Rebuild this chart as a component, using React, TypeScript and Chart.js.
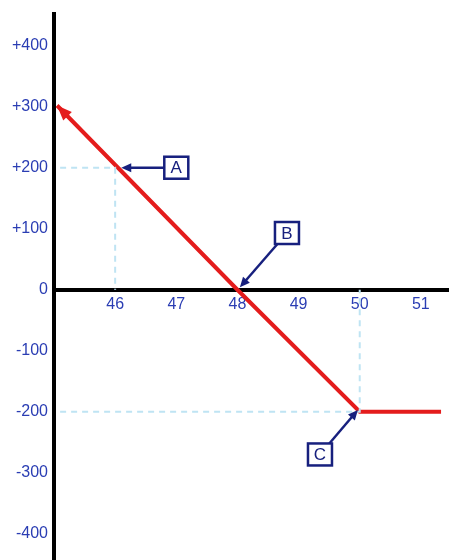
import React, { useEffect, useRef } from 'react';
import { Chart, registerables } from 'chart.js';

Chart.register(...registerables);

const xTicks = [46, 47, 48, 49, 50, 51];
const yTicks = [-400, -300, -200, -100, 0, 100, 200, 300, 400];
const xMin = 45;
const xMax = 51.46;
const yMin = -443;
const yMax = 452;

const payoffX = [45.05, 48, 50, 51.33];
const payoffY = [302, 0, -200, -200];

const guideAX = [45.1, 46, 46];
const guideAY = [200, 200, 0];
const guideCX = [45.1, 50, 50];
const guideCY = [-200, -200, 0];

const markerLabels = ['A', 'B', 'C'];
const markerBoxX = [47.0, 48.81, 49.35];
const markerBoxY = [200, 93, -270];
const markerTargetX = [46.1, 48.04, 49.97];
const markerTargetY = [200, 4, -197];

const BLUE_TEXT = '#2a3db3';
const NAVY = '#17207e';
const RED = '#e41c1c';
const GUIDE = '#bfe4f3';
const FONT = 'Arial, "Liberation Sans", sans-serif';

const toPts = (xs: number[], ys: number[]) => xs.map((x, i) => ({ x, y: ys[i] }));

function arrowHead(ctx: CanvasRenderingContext2D, tx: number, ty: number, fx: number, fy: number, len: number, half: number, color: string) {
  const ang = Math.atan2(ty - fy, tx - fx);
  ctx.save();
  ctx.fillStyle = color;
  ctx.beginPath();
  ctx.moveTo(tx, ty);
  ctx.lineTo(tx - len * Math.cos(ang) + half * Math.sin(ang), ty - len * Math.sin(ang) - half * Math.cos(ang));
  ctx.lineTo(tx - len * Math.cos(ang) - half * Math.sin(ang), ty - len * Math.sin(ang) + half * Math.cos(ang));
  ctx.closePath();
  ctx.fill();
  ctx.restore();
}

const annotationPlugin = {
  id: 'annotations',
  afterDatasetsDraw(chart: any) {
    const ctx: CanvasRenderingContext2D = chart.ctx;
    const xs = chart.scales.x;
    const ys = chart.scales.y;
    const p0x = xs.getPixelForValue(payoffX[0]);
    const p0y = ys.getPixelForValue(payoffY[0]);
    const p1x = xs.getPixelForValue(payoffX[1]);
    const p1y = ys.getPixelForValue(payoffY[1]);
    arrowHead(ctx, p0x, p0y, p1x, p1y, 15, 6, RED);

    const bw = 24;
    const bh = 22;
    markerLabels.forEach((lab, i) => {
      const bx = xs.getPixelForValue(markerBoxX[i]);
      const by = ys.getPixelForValue(markerBoxY[i]);
      const tx = xs.getPixelForValue(markerTargetX[i]);
      const ty = ys.getPixelForValue(markerTargetY[i]);
      const dx = tx - bx;
      const dy = ty - by;
      const s = Math.min(
        dx !== 0 ? (bw / 2) / Math.abs(dx) : Infinity,
        dy !== 0 ? (bh / 2) / Math.abs(dy) : Infinity
      );
      const sx = bx + dx * s;
      const sy = by + dy * s;
      const ang = Math.atan2(dy, dx);
      ctx.save();
      ctx.strokeStyle = NAVY;
      ctx.lineWidth = 2.5;
      ctx.beginPath();
      ctx.moveTo(sx, sy);
      ctx.lineTo(tx - 8 * Math.cos(ang), ty - 8 * Math.sin(ang));
      ctx.stroke();
      arrowHead(ctx, tx, ty, sx, sy, 10, 4.5, NAVY);
      ctx.fillStyle = '#ffffff';
      ctx.fillRect(bx - bw / 2, by - bh / 2, bw, bh);
      ctx.lineWidth = 2.5;
      ctx.strokeRect(bx - bw / 2, by - bh / 2, bw, bh);
      ctx.fillStyle = NAVY;
      ctx.font = '17px ' + FONT;
      ctx.textAlign = 'center';
      ctx.textBaseline = 'middle';
      ctx.fillText(lab, bx, by + 1);
      ctx.restore();
    });
  },
};

export default function App() {
  const ref = useRef<HTMLCanvasElement | null>(null);
  useEffect(() => {
    if (!ref.current) return;
    const chart = new Chart(ref.current, {
      type: 'line',
      data: {
        datasets: [
          {
            data: toPts(guideAX, guideAY),
            borderColor: GUIDE,
            borderWidth: 2,
            borderDash: [6, 5],
            pointRadius: 0,
            fill: false,
          },
          {
            data: toPts(guideCX, guideCY),
            borderColor: GUIDE,
            borderWidth: 2,
            borderDash: [6, 5],
            pointRadius: 0,
            fill: false,
          },
          {
            data: toPts(payoffX, payoffY),
            borderColor: RED,
            borderWidth: 4,
            pointRadius: 0,
            fill: false,
            tension: 0,
          },
        ],
      },
      options: {
        animation: false,
        responsive: false,
        layout: { padding: { top: 14, left: 0, right: 0, bottom: 0 } },
        plugins: { legend: { display: false }, tooltip: { enabled: false } },
        scales: {
          x: {
            type: 'linear',
            min: xMin,
            max: xMax,
            position: { y: 0 } as any,
            grid: { display: false, drawTicks: false },
            border: { display: true, color: '#000000', width: 4 },
            afterBuildTicks: (s: any) => {
              s.ticks = xTicks.map((v) => ({ value: v }));
            },
            afterFit: (s: any) => {
              s.paddingLeft = 0;
              s.paddingRight = 0;
              s.height = 0;
            },
            ticks: {
              color: BLUE_TEXT,
              font: { size: 16, family: FONT },
              padding: 5,
              maxRotation: 0,
              autoSkip: false,
            },
          },
          y: {
            type: 'linear',
            min: yMin,
            max: yMax,
            position: 'left',
            grid: { display: false, drawTicks: false },
            border: { display: true, color: '#000000', width: 4 },
            afterBuildTicks: (s: any) => {
              s.ticks = yTicks.map((v) => ({ value: v }));
            },
            afterFit: (s: any) => {
              s.width = 54;
              s.paddingTop = 0;
              s.paddingBottom = 0;
            },
            ticks: {
              color: BLUE_TEXT,
              font: { size: 16, family: FONT },
              padding: 6,
              autoSkip: false,
              callback: (v: any) => (Number(v) > 0 ? '+' + v : String(v)),
            },
          },
        },
      },
      plugins: [annotationPlugin],
    });
    return () => chart.destroy();
  }, []);
  return (
    <div style={{ position: 'fixed', left: 0, top: 0, width: 449, height: 560, background: '#ffffff' }}>
      <canvas ref={ref} width={449} height={560} style={{ display: 'block' }} />
    </div>
  );
}
